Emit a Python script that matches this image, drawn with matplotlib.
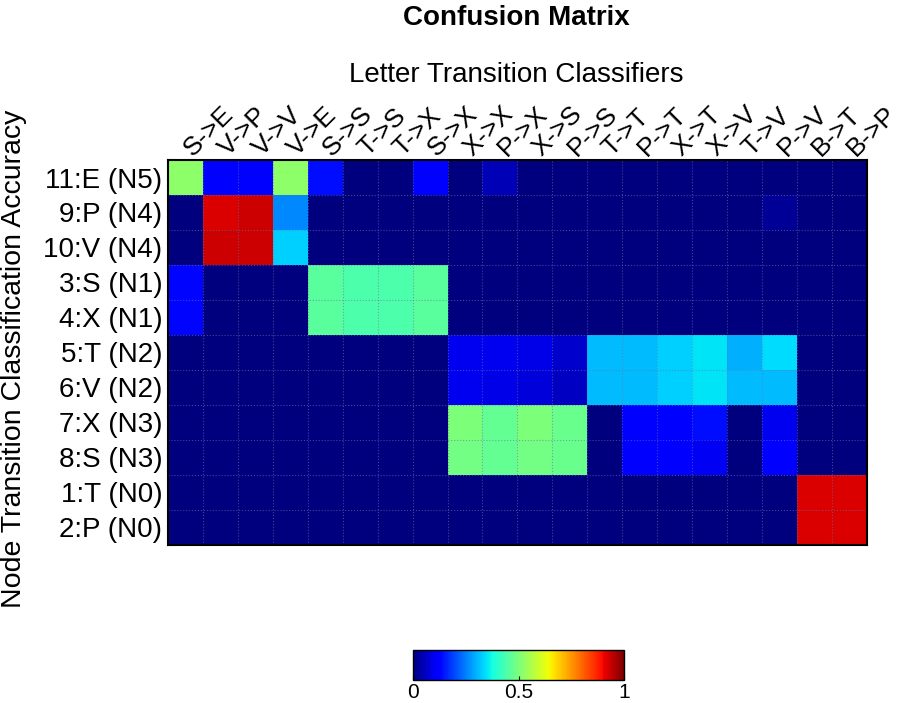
import matplotlib
matplotlib.use("Agg")
import matplotlib.pyplot as plt
import matplotlib.transforms as mtransforms
import numpy as np

plt.rcParams['font.family'] = ['Liberation Sans', 'DejaVu Sans']

# column (letter transition) and row (node transition) labels
col_labels = ["S->E", "V->P", "V->V", "V->E", "S->S", "T->S", "T->X", "S->X",
              "X->X", "P->X", "X->S", "P->S", "T->T", "P->T", "X->T", "X->V",
              "T->V", "P->V", "B->T", "B->P"]
row_labels = ["11:E (N5)", "9:P (N4)", "10:V (N4)", "3:S (N1)", "4:X (N1)",
              "5:T (N2)", "6:V (N2)", "7:X (N3)", "8:S (N3)", "1:T (N0)", "2:P (N0)"]

# values (jet colour -> value)
row_e_n5 = [0.52, 0.12, 0.12, 0.52, 0.14, 0, 0, 0.11, 0, 0.05, 0, 0, 0, 0, 0, 0, 0, 0, 0, 0]
row_p_n4 = [0, 0.92, 0.93, 0.26, 0, 0, 0, 0, 0, 0, 0, 0, 0, 0, 0, 0, 0, 0.02, 0, 0]
row_v_n4 = [0, 0.93, 0.93, 0.33, 0, 0, 0, 0, 0, 0, 0, 0, 0, 0, 0, 0, 0, 0, 0, 0]
row_s_n1 = [0.13, 0, 0, 0, 0.46, 0.445, 0.445, 0.46, 0, 0, 0, 0, 0, 0, 0, 0, 0, 0, 0, 0]
row_x_n1 = [0.13, 0, 0, 0, 0.46, 0.445, 0.445, 0.46, 0, 0, 0, 0, 0, 0, 0, 0, 0, 0, 0, 0]
row_t_n2 = [0, 0, 0, 0, 0, 0, 0, 0, 0.10, 0.10, 0.09, 0.07, 0.31, 0.31, 0.33, 0.35, 0.30, 0.34, 0, 0]
row_v_n2 = [0, 0, 0, 0, 0, 0, 0, 0, 0.10, 0.09, 0.08, 0.06, 0.31, 0.31, 0.33, 0.35, 0.31, 0.31, 0, 0]
row_x_n3 = [0, 0, 0, 0, 0, 0, 0, 0, 0.50, 0.47, 0.50, 0.48, 0, 0.12, 0.12, 0.14, 0, 0.10, 0, 0]
row_s_n3 = [0, 0, 0, 0, 0, 0, 0, 0, 0.49, 0.47, 0.49, 0.48, 0, 0.12, 0.11, 0.105, 0, 0.11, 0, 0]
row_t_n0 = [0, 0, 0, 0, 0, 0, 0, 0, 0, 0, 0, 0, 0, 0, 0, 0, 0, 0, 0.92, 0.92]
row_p_n0 = [0, 0, 0, 0, 0, 0, 0, 0, 0, 0, 0, 0, 0, 0, 0, 0, 0, 0, 0.92, 0.92]

cbar_ticks = [0, 0.5, 1]

matrix = np.array([row_e_n5, row_p_n4, row_v_n4, row_s_n1, row_x_n1, row_t_n2,
                   row_v_n2, row_x_n3, row_s_n3, row_t_n0, row_p_n0])

fig = plt.figure(figsize=(9.01, 7.03), dpi=100)
ax = fig.add_axes([0.1865, 0.2248, 0.7755, 0.5476])

im = ax.imshow(matrix, cmap='jet', vmin=0, vmax=1, aspect='auto',
               interpolation='nearest')

# faint cell grid
ax.set_xticks(np.arange(-0.5, len(col_labels), 1), minor=True)
ax.set_yticks(np.arange(-0.5, len(row_labels), 1), minor=True)
ax.grid(which='minor', color='#6f6fa8', linestyle=':', linewidth=0.8, alpha=0.6)
ax.tick_params(which='minor', length=0)

ax.set_xticks(np.arange(len(col_labels)))
ax.set_xticklabels(col_labels, rotation=45, ha='left', va='baseline',
                   rotation_mode='anchor', fontsize=19)
ax.xaxis.tick_top()
ax.set_yticks(np.arange(len(row_labels)))
ax.set_yticklabels(row_labels, fontsize=20)
ax.tick_params(axis='y', which='major', length=0, pad=4)
ax.tick_params(axis='x', which='major', length=0, pad=2)

# nudge the rotated labels so they start at the column centre
shift = mtransforms.ScaledTranslation(0.07, 0.0, fig.dpi_scale_trans)
for lbl in ax.get_xticklabels():
    lbl.set_transform(lbl.get_transform() + shift)

for sp in ax.spines.values():
    sp.set_linewidth(1.5)

fig.text(0.573, 0.975, "Confusion Matrix", ha='center', va='center',
         fontsize=20, fontweight='bold')
fig.text(0.573, 0.893, "Letter Transition Classifiers", ha='center',
         va='center', fontsize=20)
fig.text(0.015, 0.49, "Node Transition Classification Accuracy", ha='center',
         va='center', rotation=90, fontsize=20.5)

cax = fig.add_axes([0.4584, 0.0327, 0.2342, 0.0427])
cb = fig.colorbar(im, cax=cax, orientation='horizontal', ticks=cbar_ticks)
cb.ax.set_xticklabels(['0', '0.5', '1'])
cb.ax.tick_params(labelsize=15, direction='in', length=3, pad=2)
cb.outline.set_linewidth(1.0)

fig.savefig('out.png', dpi=100)
